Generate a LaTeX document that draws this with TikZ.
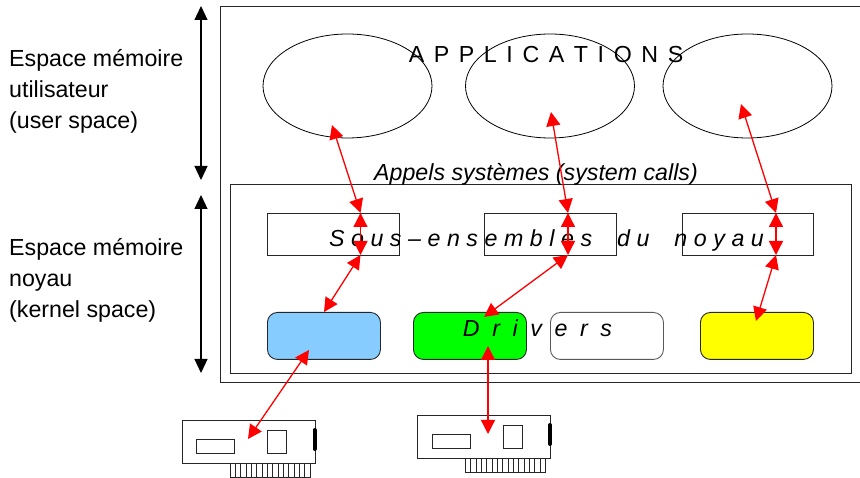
\documentclass[tikz,border=0pt]{standalone}
\usepackage{fontspec}
\setmainfont{Liberation Sans}
\usetikzlibrary{arrows.meta,shapes.geometric}
\definecolor{lblue}{RGB}{135,204,255}
\definecolor{pureyellow}{RGB}{255,255,0}
\definecolor{puregreen}{RGB}{0,255,0}
\tikzset{
  box/.style={draw=black!85,line width=0.9pt,inner sep=0pt,anchor=north west},
  plain/.style={box,rectangle},
  pill/.style={box,rectangle,rounded corners=10pt},
  oval/.style={draw=black,line width=0.8pt,ellipse,inner sep=0pt,minimum width=169pt,minimum height=104pt},
  label/.style={font=\fontsize{23.2}{31}\selectfont,align=left,anchor=west,inner sep=0pt},
  spaced/.style={font=\fontsize{23.2}{26}\selectfont,inner sep=0pt,anchor=center},
  slanted/.style={font=\fontsize{23.2}{26}\selectfont\itshape,inner sep=0pt,anchor=center},
  link/.style={red,line width=1.3pt,{Triangle[length=14pt,width=14pt]}-{Triangle[length=14pt,width=14pt]}},
  bar/.style={black,line width=1.2pt,{Triangle[length=14pt,width=13pt]}-{Triangle[length=14pt,width=13pt]}},
  part/.style={draw=black!85,line width=0.9pt},
}
\newcommand{\cardshape}[2]{%
  \begin{scope}[shift={(#1,#2)}]
    \draw[part,fill=white] (0,0) rectangle (133,43);
    \draw[part] (14.5,19) rectangle (52.5,33);
    \draw[part] (85.5,10) rectangle (104.5,33);
    \draw[black,line width=4pt,line cap=round] (132.5,10) -- (132.5,29);
    \draw[part,line width=0.7pt] (48,43) rectangle (128,57);
    \foreach \k in {1,...,14} {\draw[black!85,line width=0.7pt] ({48+\k*80/15},43) -- ({48+\k*80/15},57);}
  \end{scope}}
\begin{document}
\begin{tikzpicture}[x=1pt,y=-1pt]
\useasboundingbox (0,0) rectangle (860,478);
% frames
\draw[part] (870,6) -- (220,6) -- (220,382) -- (870,382);
\node[plain,minimum width=621pt,minimum height=189pt] (kernel) at (230,184) {};
% ellipses
\node[oval] (e1) at (347.5,86) {};
\node[oval] (e2) at (550,86) {};
\node[oval] (e3) at (747.5,86) {};
% subsystems
\node[plain,minimum width=132pt,minimum height=42pt] (s1) at (267,213) {};
\node[plain,minimum width=132pt,minimum height=42pt] (s2) at (484,213) {};
\node[plain,minimum width=131pt,minimum height=42pt] (s3) at (682,213) {};
% drivers
\node[pill,fill=lblue,minimum width=113pt,minimum height=47pt] (d1) at (267,312) {};
\node[pill,fill=puregreen,minimum width=113pt,minimum height=47pt] (d2) at (413,312) {};
\node[pill,draw=black!65,minimum width=113pt,minimum height=47pt] (d3) at (550,312) {};
\node[pill,fill=pureyellow,minimum width=113pt,minimum height=47pt] (d4) at (700,312) {};
% cards
\cardshape{182}{420}
\cardshape{417.5}{415}
% side labels
\node[label] (us) at (9,91.5) {Espace mémoire\\utilisateur\\(user space)};
\node[label] (ks) at (9,280.5) {Espace mémoire\\noyau\\(kernel space)};
% titles
\node[spaced] (apps) at (546,55) {\spaceskip=9.6pt A P P L I C A T I O N S};
\node[slanted] (calls) at (536,174) {Appels systèmes (system calls)};
\node[slanted] (sub) at (546.5,241) {\spaceskip=6.55pt S o u s – e n s e m b l e s\hspace{25pt}d u\hspace{25pt}n o y a u};
\node[slanted] (drv) at (537.5,328.5) {\spaceskip=12.6pt D r i v e r s};
% named connector ends
\coordinate (t1) at (332,125);
\coordinate (a1) at (360.5,213);
\coordinate (b1) at (360.5,255);
\coordinate (c1) at (324,312);
\coordinate (t2) at (551,112);
\coordinate (a2) at (568,213);
\coordinate (b2) at (568,255);
\coordinate (c2) at (484,317);
\coordinate (t3) at (741,104);
\coordinate (a3) at (776,213);
\coordinate (b3) at (776,255);
\coordinate (c3) at (756,321);
\coordinate (p1) at (309,350);
\coordinate (q1) at (248,439);
\coordinate (p2) at (488,346);
\coordinate (q2) at (488,434);
\coordinate (u1) at (201,6);
\coordinate (u2) at (201,180);
\coordinate (k1) at (201,195);
\coordinate (k2) at (201,373);
% connectors
\draw[bar] (u1) -- (u2);
\draw[bar] (k1) -- (k2);
\draw[link] (t1) -- (a1);
\draw[link] (a1) -- (b1);
\draw[link] (b1) -- (c1);
\draw[link] (t2) -- (a2);
\draw[link] (a2) -- (b2);
\draw[link] (b2) -- (c2);
\draw[link] (t3) -- (a3);
\draw[link] (a3) -- (b3);
\draw[link] (b3) -- (c3);
\draw[link] (p1) -- (q1);
\draw[link] (p2) -- (q2);
\end{tikzpicture}
\end{document}
